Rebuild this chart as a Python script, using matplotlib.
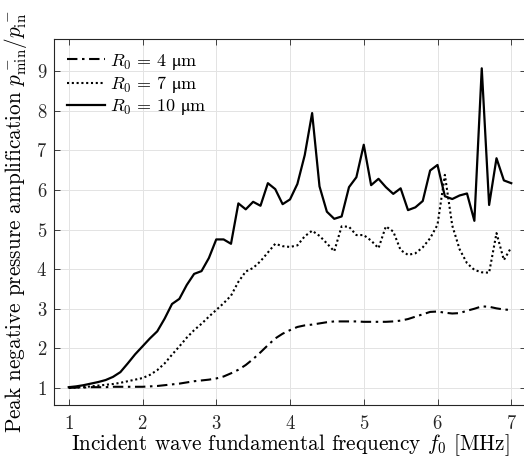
import numpy as np
import matplotlib
matplotlib.use("Agg")
import matplotlib.pyplot as plt

plt.rcParams['font.family'] = ['cmr10', 'DejaVu Serif']
plt.rcParams['mathtext.fontset'] = 'cm'
plt.rcParams['axes.formatter.use_mathtext'] = True

freq = np.round(np.arange(1.0, 7.0001, 0.1), 1)

amp_r4 = [1.00, 1.01, 1.01, 1.02, 1.02, 1.02, 1.03, 1.03, 1.03, 1.03,
          1.03, 1.04, 1.05, 1.07, 1.09, 1.11, 1.14, 1.17, 1.19, 1.21,
          1.24, 1.29, 1.37, 1.46, 1.58, 1.73, 1.90, 2.08, 2.25, 2.37,
          2.46, 2.54, 2.58, 2.60, 2.63, 2.66, 2.68, 2.68, 2.68, 2.68,
          2.67, 2.67, 2.67, 2.67, 2.68, 2.70, 2.74, 2.80, 2.86, 2.92,
          2.93, 2.90, 2.88, 2.89, 2.95, 3.00, 3.06, 3.05, 3.01, 2.98,
          2.97]

amp_r7 = [1.00, 1.01, 1.02, 1.04, 1.06, 1.08, 1.10, 1.13, 1.17, 1.21,
          1.25, 1.33, 1.45, 1.62, 1.84, 2.05, 2.27, 2.46, 2.62, 2.80,
          2.97, 3.14, 3.33, 3.68, 3.94, 4.03, 4.20, 4.42, 4.64, 4.58,
          4.56, 4.60, 4.83, 4.97, 4.84, 4.65, 4.45, 5.08, 5.07, 4.86,
          4.86, 4.72, 4.53, 5.08, 4.95, 4.48, 4.36, 4.40, 4.55, 4.78,
          5.12, 6.38, 5.10, 4.50, 4.15, 3.98, 3.92, 3.91, 4.91, 4.23,
          4.55]

amp_r10 = [1.02, 1.04, 1.07, 1.11, 1.15, 1.20, 1.28, 1.40, 1.62, 1.85,
           2.05, 2.25, 2.43, 2.75, 3.12, 3.25, 3.60, 3.88, 3.95, 4.28,
           4.75, 4.75, 4.64, 5.66, 5.51, 5.70, 5.60, 6.17, 6.02, 5.64,
           5.76, 6.15, 6.88, 7.94, 6.09, 5.45, 5.27, 5.33, 6.07, 6.32,
           7.14, 6.12, 6.28, 6.07, 5.90, 6.04, 5.49, 5.56, 5.72, 6.49,
           6.63, 5.84, 5.77, 5.86, 5.91, 5.22, 9.07, 5.62, 6.80, 6.24,
           6.17]

labels = [r'$R_0\,=\,4\ \mathrm{μm}$', r'$R_0\,=\,7\ \mathrm{μm}$', r'$R_0\,=\,10\ \mathrm{μm}$']
xticks = [1, 2, 3, 4, 5, 6, 7]
yticks = [1, 2, 3, 4, 5, 6, 7, 8, 9]

W, H = 524, 459
fig = plt.figure(figsize=(W / 100, H / 100), dpi=100)
left, right, bottom, top = 54, 526, 405, 39
ax = fig.add_axes([left / W, 1 - bottom / H, (right - left) / W, (bottom - top) / H])

ax.plot(freq, amp_r4, color='black', lw=1.5, linestyle=(0, (5, 2.2, 1.2, 2.2)), label=labels[0])
ax.plot(freq, amp_r7, color='black', lw=1.5, linestyle=(0, (1.0, 1.3)), label=labels[1])
ax.plot(freq, amp_r10, color='black', lw=1.6, linestyle='-', label=labels[2])

ax.set_xlim(0.8, 7.2)
ax.set_ylim(0.57, 9.81)
ax.set_xticks(xticks)
ax.set_yticks(yticks)
ax.grid(True, color='#e3e3e3', lw=0.7)
ax.set_axisbelow(True)
ax.tick_params(direction='in', top=True, right=True, labelsize=13.5, length=4,
               width=0.6, colors='#262626')
ax.tick_params(axis='x', pad=7)
ax.tick_params(axis='y', pad=5)
for s in ax.spines.values():
    s.set_color('#262626')
    s.set_linewidth(0.8)

ax.set_xlabel(r'Incident wave fundamental frequency $f_0$ [MHz]', fontsize=15.3, labelpad=0)
ax.set_ylabel(r'Peak negative pressure amplification $p^-_{\rm min}/p^-_{\rm in}$', fontsize=15.3, labelpad=5)

leg = ax.legend(loc='upper left', frameon=False, fontsize=13, handlelength=2.1,
                handletextpad=0.3, labelspacing=0.12, borderaxespad=0.0,
                bbox_to_anchor=(0.012, 0.985))

fig.savefig('out.png', dpi=100)
